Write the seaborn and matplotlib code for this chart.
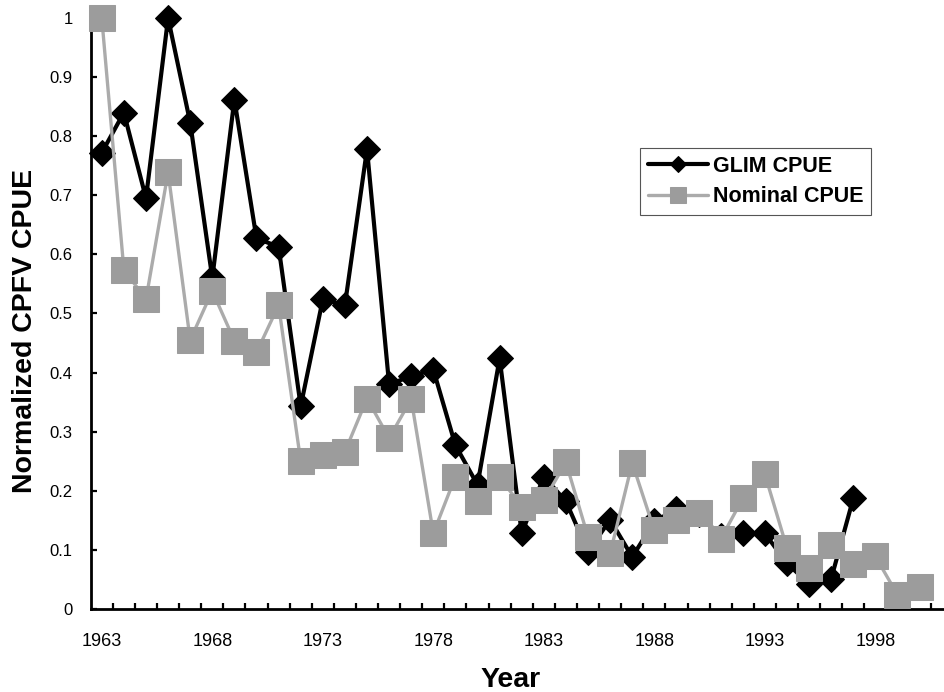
import numpy as np
import pandas as pd
import matplotlib
matplotlib.use("Agg")
import matplotlib.pyplot as plt
import seaborn as sns
from matplotlib.ticker import FixedLocator, FuncFormatter

# GLIM standardized CPUE, 1963-1997
glim_years = list(range(1963, 1998))
glim_cpue = [0.772, 0.840, 0.695, 1.000, 0.823, 0.560, 0.862, 0.627, 0.613, 0.343,
             0.524, 0.514, 0.778, 0.380, 0.394, 0.405, 0.277, 0.210, 0.424, 0.128,
             0.224, 0.182, 0.097, 0.151, 0.088, 0.148, 0.169, 0.160, 0.124, 0.128,
             0.128, 0.077, 0.043, 0.051, 0.187]

# Nominal CPUE, 1963-2000
nominal_years = list(range(1963, 2001))
nominal_cpue = [1.000, 0.574, 0.524, 0.739, 0.455, 0.538, 0.454, 0.434, 0.514, 0.250,
                0.261, 0.266, 0.356, 0.289, 0.355, 0.128, 0.224, 0.182, 0.223, 0.173,
                0.184, 0.248, 0.122, 0.094, 0.247, 0.133, 0.151, 0.162, 0.118, 0.187,
                0.228, 0.103, 0.069, 0.108, 0.076, 0.089, 0.024, 0.038]

year_labels = [1963, 1968, 1973, 1978, 1983, 1988, 1993, 1998]

glim_df = pd.DataFrame({"Year": glim_years, "CPUE": glim_cpue})
nominal_df = pd.DataFrame({"Year": nominal_years, "CPUE": nominal_cpue})

sns.set_style("ticks")
plt.rcParams["font.family"] = ["Liberation Sans", "DejaVu Sans"]
plt.rcParams["text.color"] = "black"
plt.rcParams["axes.labelcolor"] = "black"
plt.rcParams["xtick.color"] = "black"
plt.rcParams["ytick.color"] = "black"

fig = plt.figure(figsize=(9.45, 6.92), dpi=100)
ax = fig.add_axes([0.096, 0.12, 0.904, 0.854])

sns.lineplot(data=glim_df, x="Year", y="CPUE", ax=ax, color="black", linewidth=3,
             marker="D", markersize=13, markerfacecolor="black",
             markeredgecolor="black", label="GLIM CPUE", clip_on=False, zorder=3)
sns.lineplot(data=nominal_df, x="Year", y="CPUE", ax=ax, color="#ababab", linewidth=2.4,
             marker="s", markersize=18.5, markerfacecolor="#9c9c9c",
             markeredgecolor="#9c9c9c", label="Nominal CPUE", clip_on=False, zorder=4)

ax.set_xlim(1962.5, 2001.15)
ax.set_ylim(0, 1)

ax.xaxis.set_major_locator(FixedLocator(year_labels))
ax.xaxis.set_minor_locator(FixedLocator(np.arange(1963.5, 2001, 1.0)))
ax.yaxis.set_major_locator(FixedLocator(np.arange(0, 1.01, 0.1)))
ax.yaxis.set_major_formatter(FuncFormatter(lambda v, p: f"{v:g}"))

ax.tick_params(axis="x", which="major", length=0, pad=17, labelsize=13)
ax.tick_params(axis="x", which="minor", direction="in", length=4, width=1.6)
ax.tick_params(axis="y", which="major", direction="in", length=4, width=1.6,
               pad=13, labelsize=12)

for s in ["top", "right"]:
    ax.spines[s].set_visible(False)
for s in ["left", "bottom"]:
    ax.spines[s].set_linewidth(2)
    ax.spines[s].set_color("black")

ax.set_xlabel("Year", fontsize=20.5, fontweight="bold")
ax.set_ylabel("Normalized CPFV CPUE", fontsize=20.5, fontweight="bold")
ax.xaxis.set_label_coords(0.492, -0.098)
ax.yaxis.set_label_coords(-0.062, 0.47)

leg = ax.legend(loc="upper left", bbox_to_anchor=(640 / 945, 1 - 148 / 692),
                bbox_transform=fig.transFigure, borderaxespad=0,
                prop={"size": 15.5, "weight": "bold"}, handlelength=2.8,
                handletextpad=0.25, borderpad=0.35, labelspacing=0.45,
                markerscale=0.6, fancybox=False, framealpha=1)
leg.get_frame().set_edgecolor("#555555")
leg.get_frame().set_linewidth(0.8)

fig.savefig("out.png", dpi=100)
